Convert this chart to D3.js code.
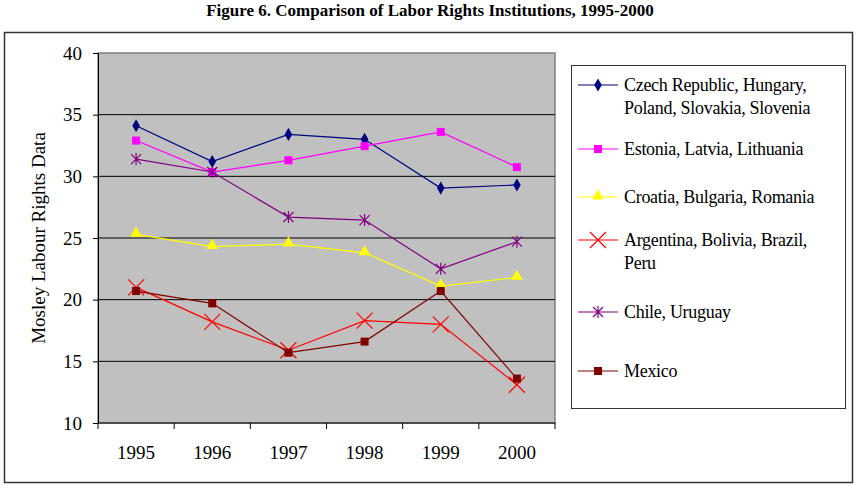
<html>
<head>
<script src="https://cdn.jsdelivr.net/npm/d3@7"></script>
<style>
body { margin: 0; background: #fff; }
text { font-family: "Liberation Serif", "Times New Roman", serif; }
</style>
</head>
<body>
<div id="chart"></div>
<script>
var years = ["1995", "1996", "1997", "1998", "1999", "2000"];
var yTicks = [10, 15, 20, 25, 30, 35, 40];

var czech = [34.1, 31.2, 33.4, 33.0, 29.05, 29.3];
var estonia = [32.9, 30.35, 31.3, 32.45, 33.6, 30.75];
var croatia = [25.3, 24.3, 24.5, 23.8, 21.1, 21.8];
var argentina = [21.0, 18.2, 15.9, 18.3, 18.0, 13.1];
var chile = [31.4, 30.35, 26.7, 26.45, 22.5, 24.7];
var mexico = [20.7, 19.7, 15.7, 16.6, 20.7, 13.6];

var series = [
	{name: ["Czech Republic, Hungary,", "Poland, Slovakia, Slovenia"], values: czech, color: "#000080", marker: "diamond", ly: 85},
	{name: ["Estonia, Latvia, Lithuania"], values: estonia, color: "#ff00ff", marker: "square", ly: 149},
	{name: ["Croatia, Bulgaria, Romania"], values: croatia, color: "#ffff00", marker: "triangle", ly: 197},
	{name: ["Argentina, Bolivia, Brazil,", "Peru"], values: argentina, color: "#ff0000", marker: "x", ly: 240},
	{name: ["Chile, Uruguay"], values: chile, color: "#800080", marker: "star", ly: 312},
	{name: ["Mexico"], values: mexico, color: "#800000", marker: "square", ly: 371}
];

var W = 860, H = 488;
var mLeft = 98, mRight = 555, mTop = 53, mBottom = 423;

var svg = d3.select("#chart").append("svg")
	.attr("width", W)
	.attr("height", H);

svg.append("text")
	.attr("x", W / 2).attr("y", 16)
	.attr("text-anchor", "middle")
	.style("font-size", "17px").style("font-weight", "bold")
	.text("Figure 6. Comparison of Labor Rights Institutions, 1995-2000");

// outer frame
svg.append("rect")
	.attr("x", 4.5).attr("y", 32.5).attr("width", 848).attr("height", 450)
	.style("fill", "#fff").style("stroke", "#333").style("stroke-width", 1.5);

var x = d3.scaleBand().domain(years).range([mLeft, mRight]);
var y = d3.scaleLinear().domain([10, 40]).range([mBottom, mTop]);

// plot background
svg.append("rect")
	.attr("x", mLeft).attr("y", mTop).attr("width", mRight - mLeft).attr("height", mBottom - mTop)
	.style("fill", "#c0c0c0").style("stroke", "#808080").style("stroke-width", 1.5);

// gridlines
svg.append("g").selectAll("line")
	.data(yTicks.slice(1, -1))
	.enter().append("line")
	.attr("x1", mLeft).attr("x2", mRight)
	.attr("y1", function(d) { return y(d); })
	.attr("y2", function(d) { return y(d); })
	.style("stroke", "#000").style("stroke-width", 1);

var yAxis = svg.append("g")
	.attr("transform", "translate(" + mLeft + ",0)")
	.call(d3.axisLeft(y).tickValues(yTicks).tickSize(5).tickPadding(11));
yAxis.selectAll("text").style("font-size", "19px").style("fill", "#000");

var xAxis = svg.append("g")
	.attr("transform", "translate(0," + mBottom + ")")
	.call(d3.axisBottom(x).tickSize(0).tickPadding(23));
xAxis.selectAll("text").style("font-size", "19px").style("fill", "#000");
xAxis.select(".domain").attr("d", "M" + mLeft + ",0H" + mRight);
// ticks between categories
var bounds = years.map(function(d) { return x(d); }).concat([mRight]);
xAxis.selectAll(".sep").data(bounds).enter().append("line")
	.attr("x1", function(d) { return d; }).attr("x2", function(d) { return d; })
	.attr("y1", 0).attr("y2", 6)
	.style("stroke", "#000");

svg.append("text")
	.attr("transform", "translate(45," + ((mTop + mBottom) / 2) + ") rotate(-90)")
	.attr("text-anchor", "middle")
	.style("font-size", "19px")
	.text("Mosley Labour Rights Data");

var line = d3.line()
	.x(function(d, i) { return x(years[i]) + x.bandwidth() / 2; })
	.y(function(d) { return y(d); });

function drawMarker(g, type, color, cx, cy) {
	if (type == "diamond") {
		g.append("path").attr("d", d3.symbol(d3.symbolDiamond, 50)())
			.attr("transform", "translate(" + cx + "," + cy + ")").style("fill", color);
	} else if (type == "square") {
		g.append("rect").attr("x", cx - 4).attr("y", cy - 4).attr("width", 8).attr("height", 8).style("fill", color);
	} else if (type == "triangle") {
		g.append("path").attr("d", d3.symbol(d3.symbolTriangle, 60)())
			.attr("transform", "translate(" + cx + "," + (cy - 1) + ")").style("fill", color);
	} else if (type == "x") {
		g.append("path").attr("d", "M-8,-8L8,8M-8,8L8,-8")
			.attr("transform", "translate(" + cx + "," + cy + ")")
			.style("stroke", color).style("stroke-width", 1.2).style("fill", "none");
	} else if (type == "star") {
		g.append("path").attr("d", "M-5,-5L5,5M-5,5L5,-5M0,-6L0,6")
			.attr("transform", "translate(" + cx + "," + cy + ")")
			.style("stroke", color).style("stroke-width", 1.2).style("fill", "none");
	}
}

series.forEach(function(s) {
	var g = svg.append("g");
	g.append("path").datum(s.values)
		.attr("d", line)
		.style("fill", "none").style("stroke", s.color).style("stroke-width", 1.2);
	s.values.forEach(function(v, i) {
		drawMarker(g, s.marker, s.color, x(years[i]) + x.bandwidth() / 2, y(v));
	});
});

// legend
svg.append("rect")
	.attr("x", 571.5).attr("y", 65.5).attr("width", 274).attr("height", 343)
	.style("fill", "#fff").style("stroke", "#333").style("stroke-width", 1);

series.forEach(function(s) {
	var g = svg.append("g");
	g.append("line").attr("x1", 578).attr("x2", 618).attr("y1", s.ly).attr("y2", s.ly)
		.style("stroke", s.color).style("stroke-width", 1.2);
	drawMarker(g, s.marker, s.color, 598, s.ly);
	s.name.forEach(function(t, j) {
		g.append("text").attr("x", 624).attr("y", s.ly + 6 + j * 23)
			.style("font-size", "18px").style("letter-spacing", "-0.3px")
			.text(t);
	});
});
</script>
</body>
</html>
